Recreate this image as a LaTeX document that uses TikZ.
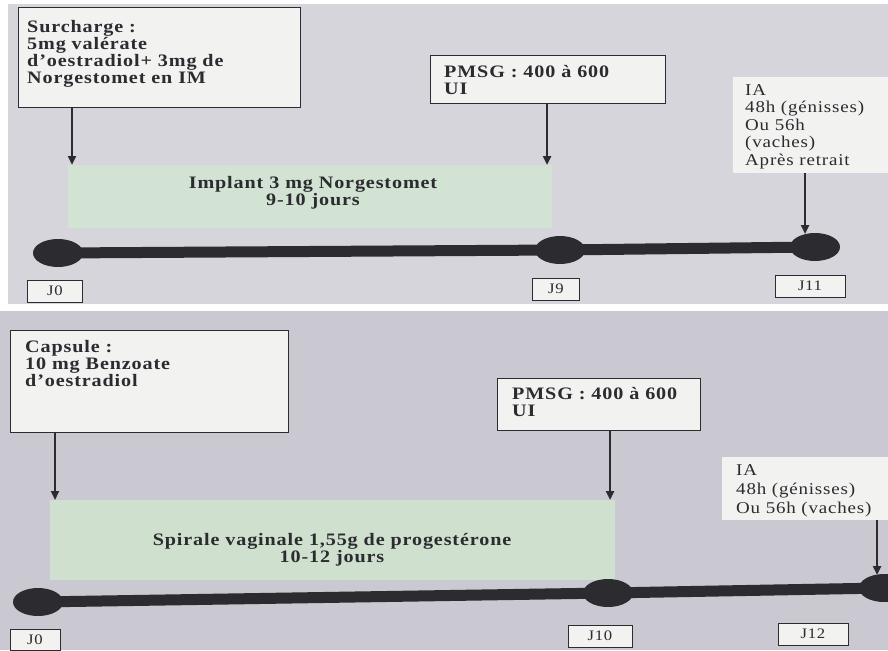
\documentclass[tikz,border=0pt]{standalone}
\usepackage{fontspec}
\setmainfont{Liberation Serif}
\newfontfamily\widefont[FakeStretch=1.15,LetterSpace=5]{Liberation Serif}
\usetikzlibrary{arrows.meta,shapes.geometric}
\definecolor{panelA}{HTML}{D6D5DC}
\definecolor{panelB}{HTML}{CAC8D0}
\definecolor{boxfill}{HTML}{F2F2F0}
\definecolor{greenA}{HTML}{D3E3D3}
\definecolor{greenB}{HTML}{CFE0CF}
\definecolor{ink}{HTML}{2B2B30}
\begin{document}
\begin{tikzpicture}[x=1pt,y=-1pt,
  tbox/.style={draw=ink, line width=1.4pt, fill=boxfill, inner sep=0pt, anchor=north west},
  plainbox/.style={fill=boxfill, inner sep=0pt, anchor=north west},
  btxt/.style={text=ink, inner sep=0pt, anchor=north west, align=left, font=\widefont\bfseries\fontsize{17.5}{16.9}\selectfont},
  rtxt/.style={text=ink, inner sep=0pt, anchor=north west, align=left, font=\widefont\fontsize{16.5}{17.5}\selectfont},
  ctxt/.style={text=ink, inner sep=0pt, align=center, font=\widefont\bfseries\fontsize{17.5}{17.5}\selectfont},
  period/.style={inner sep=0pt, anchor=north west},
  dot/.style={ellipse, fill=ink, minimum width=50pt, minimum height=28pt, inner sep=0pt},
  jbox/.style={draw=ink, line width=1pt, fill=boxfill, inner sep=0pt, minimum height=22pt, text=ink, font=\widefont\fontsize{14.5}{14.5}\selectfont},
  tline/.style={draw=ink, line width=11pt},
  arr/.style={draw=ink, line width=2.6pt, -{Triangle[width=8pt,length=9pt]}}
]
\useasboundingbox (0,0) rectangle (888,650);
\fill[white] (0,0) rectangle (888,650);
\fill[panelA] (8,4) rectangle (888,304);
\fill[panelB] (0,311) rectangle (888,650);

% ---------- top panel ----------
\node[period, fill=greenA, minimum width=484pt, minimum height=63pt] (imp) at (68,165) {};
\node[ctxt] (impt) at (313,193) {Implant 3 mg Norgestomet\\9-10 jours};

\node[tbox, minimum width=282pt, minimum height=100pt] (sur) at (18,7) {};
\node[btxt] (surt) at (27,20) {Surcharge :\\5mg valérate\\d’oestradiol+ 3mg de\\Norgestomet en IM};

\node[tbox, minimum width=235pt, minimum height=48pt] (pm1) at (430,55) {};
\node[btxt] (pm1t) at (444,65) {PMSG : 400 à 600\\UI};

\node[plainbox, minimum width=155pt, minimum height=96pt] (ia1) at (733,77) {};
\node[rtxt] (ia1t) at (745,84) {IA\\48h (génisses)\\Ou 56h\\(vaches)\\Après retrait};

\coordinate (a) at (58,253);
\coordinate (b) at (560,250);
\coordinate (c) at (815,247);
\draw[tline] (a) -- (b) -- (c);
\node[dot] (d0) at (a) {};
\node[dot] (d9) at (b) {};
\node[dot] (d11) at (c) {};

\draw[arr] (sur.south west -| 72,0) coordinate (s1) -- (s1 |- imp.north);
\draw[arr] (pm1.south west -| 547,0) coordinate (s2) -- (s2 |- imp.north);
\draw[arr] (ia1.south west -| 805,0) coordinate (s3) -- (805,234);

\node[jbox, minimum width=55pt] (j0) at (55,291) {J0};
\node[jbox, minimum width=47pt] (j9) at (556,289) {J9};
\node[jbox, minimum width=70pt] (j11) at (810,286) {J11};

% ---------- bottom panel ----------
\node[period, fill=greenB, minimum width=565pt, minimum height=80pt] (spi) at (50,500) {};
\node[ctxt] (spit) at (332,550) {Spirale vaginale 1,55g de progestérone\\10-12 jours};

\node[tbox, minimum width=278pt, minimum height=102pt] (cap) at (10,330) {};
\node[btxt] (capt) at (25,340) {Capsule :\\10 mg Benzoate\\d’oestradiol};

\node[tbox, minimum width=203pt, minimum height=52pt] (pm2) at (497,378) {};
\node[btxt] (pm2t) at (512,387) {PMSG : 400 à 600\\UI};

\node[plainbox, minimum width=166pt, minimum height=63pt] (ia2) at (722,457) {};
\node[rtxt, font=\widefont\fontsize{16.5}{19}\selectfont] (ia2t) at (736,464) {IA\\48h (génisses)\\Ou 56h (vaches)};

\coordinate (e) at (38,602);
\coordinate (f) at (608,593);
\coordinate (g) at (884,588);
\draw[tline] (e) -- (f) -- (g);
\node[dot] (e0) at (e) {};
\node[dot] (e10) at (f) {};
\node[dot] (e12) at (g) {};

\draw[arr] (cap.south west -| 55,0) coordinate (t1) -- (t1 |- spi.north);
\draw[arr] (pm2.south west -| 610,0) coordinate (t2) -- (t2 |- spi.north);
\draw[arr] (ia2.south west -| 877,0) coordinate (t3) -- (877,575);

\node[jbox, minimum width=50pt, minimum height=21pt, anchor=north] (k0) at (35,629) {J0};
\node[jbox, minimum width=64pt] (k10) at (600,636) {J10};
\node[jbox, minimum width=70pt] (k12) at (813,634) {J12};
\end{tikzpicture}
\end{document}
